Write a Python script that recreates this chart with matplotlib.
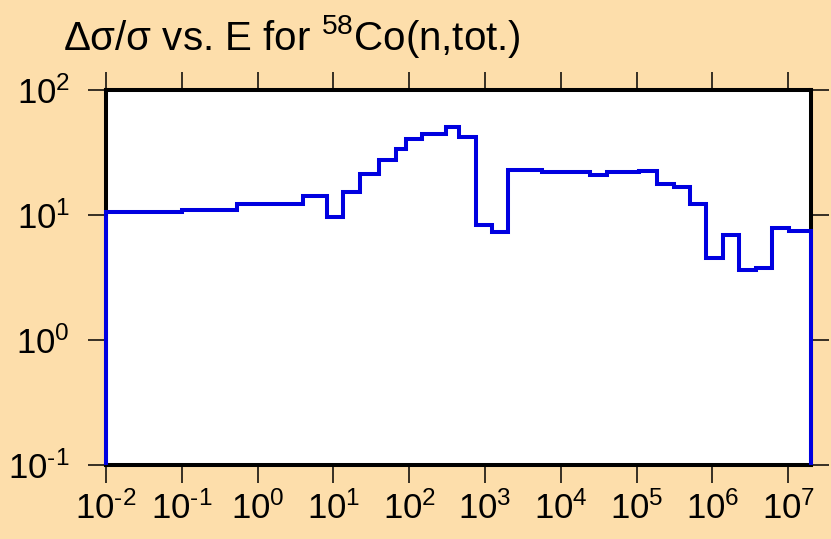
import matplotlib
matplotlib.use('Agg')
from matplotlib import pyplot as plt
import numpy as np

plt.rcParams['font.family'] = ['Liberation Sans', 'DejaVu Sans']
plt.rcParams['mathtext.fontset'] = 'custom'
plt.rcParams['mathtext.rm'] = 'Liberation Sans'
plt.rcParams['mathtext.it'] = 'Liberation Sans:italic'
plt.rcParams['mathtext.default'] = 'regular'

# energy bin edges (eV) and relative uncertainty (%) in each bin
edges = [1e-2, 0.1, 0.54, 4.0, 8.3, 13.5, 22.7, 40, 67, 91, 149, 308, 452, 750,
         1244, 2042, 5610, 9.0e3, 1.55e4, 2.4e4, 4.1e4, 1.08e5, 1.86e5, 3.07e5,
         5.09e5, 8.2e5, 1.36e6, 2.25e6, 3.74e6, 6.2e6, 1.03e7, 2e7]
unc = [10.6, 11.0, 12.2, 14.1, 9.7, 15.4, 21.2, 27.7, 33.9, 40.7, 44.7, 50.3,
       42.3, 8.3, 7.3, 22.9, 22.0, 21.9, 22.1, 20.9, 22.2, 22.3, 17.7, 16.9,
       12.3, 4.5, 6.9, 3.6, 3.8, 7.9, 7.5]
xexp = ['-2', '-1', '0', '1', '2', '3', '4', '5', '6', '7']
yexp = ['-1', '0', '1', '2']


def label(e):
    return r'$10^{\text{%s}}$' % e


bg = '#fddeab'
fig = plt.figure(figsize=(8.31, 5.39), dpi=100)
fig.patch.set_facecolor(bg)
ax = fig.add_axes([106/831, 1-465/539, (811-106)/831, (465-90)/539])
ax.set_facecolor('white')

ax.stairs(unc, edges, baseline=1e-1, color='#0000e0', lw=2.9,
          zorder=6, clip_on=False)

ax.set_xscale('log')
ax.set_yscale('log')
ax.set_xlim(1e-2, 2e7)
ax.set_ylim(1e-1, 1e2)
ax.set_xticks([10.0**int(e) for e in xexp], [label(e) for e in xexp])
ax.set_yticks([10.0**int(e) for e in yexp], [label(e) for e in yexp])
ax.minorticks_off()

for s in ax.spines.values():
    s.set_linewidth(2.9)
    s.set_zorder(5)
ax.tick_params(which='both', direction='out', length=13, width=1.1,
               top=True, right=True, labelsize=25, color='black')
ax.tick_params(axis='y', pad=13)
ax.tick_params(axis='x', pad=6)

fig.text(63/831, 1-50/539, u'\u0394\u03c3/\u03c3 vs. E for $^{58}$Co(n,tot.)',
         fontsize=29, va='baseline', ha='left')

fig.savefig('out.png', dpi=100, facecolor=bg)
